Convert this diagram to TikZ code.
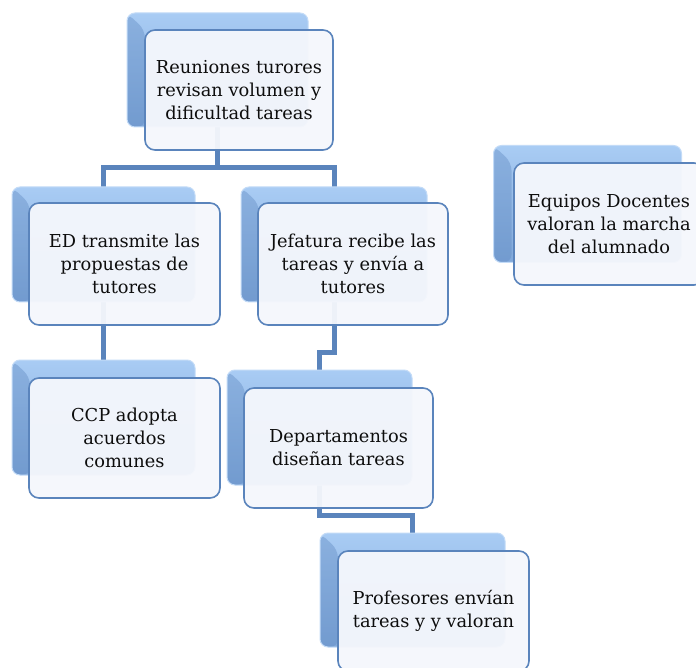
\documentclass[tikz,border=0pt]{standalone}
\usepackage{fontspec}
\setmainfont{DejaVu Serif}
\definecolor{connc}{HTML}{5A84BC}
\definecolor{bgtop}{HTML}{A9CCF4}
\definecolor{bgbot}{HTML}{80A8DA}
\definecolor{bevelc}{HTML}{5E88C0}
\definecolor{frontfill}{HTML}{F5F7FC}
\definecolor{frontline}{HTML}{5A84BC}
\begin{document}
\begin{tikzpicture}[x=1pt,y=-1pt,
  conn/.style={draw=connc,line width=5pt},
  bgbox/.style={rectangle,rounded corners=8pt,top color=bgtop,bottom color=bgbot,
    draw=bgtop!70!white,line width=1pt,inner sep=0pt,
    path picture={\fill[bevelc,opacity=0.4] (path picture bounding box.north west)
      -- ++(18pt,-17pt) -- ([xshift=18pt]path picture bounding box.south west)
      -- (path picture bounding box.south west) -- cycle;}},
  frontbox/.style={rectangle,rounded corners=10pt,fill=frontfill,fill opacity=0.95,
    text opacity=1,draw=frontline,line width=1.6pt,align=center,inner sep=2pt,
    font=\fontsize{17.8pt}{22.8pt}\selectfont,text=black!95}]
\clip (0,0) rectangle (696,668);
\useasboundingbox (0,0) rectangle (696,668);
\fill[white] (0,0) rectangle (696,668);
% background boxes positions (centres)
\coordinate (pA) at (217.5,70);
\coordinate (pB) at (103.5,244.5);
\coordinate (pC) at (334,244.5);
\coordinate (pD) at (103.5,417.5);
\coordinate (pE) at (319.5,427.5);
\coordinate (pF) at (587.5,204);
\coordinate (pG) at (412.5,590);
% connectors (behind)
\coordinate (hA) at ([yshift=-168pt]pA |- 0,0);
\coordinate (hB) at ([yshift=-352pt]pE |- 0,0);
\coordinate (hC) at ([yshift=-515pt]pG |- 0,0);
\draw[conn] (pA) -- (hA);
\draw[conn] (pB) |- (hA) -| (pC);
\draw[conn] (pB) -- (pD);
\draw[conn] (pC) |- (hB) -| (pE);
\draw[conn] (pE) |- (hC) -| (pG);
% background boxes
\node[bgbox,minimum width=181pt,minimum height=114pt] (bgA) at (pA) {};
\node[bgbox,minimum width=183pt,minimum height=115pt] (bgB) at (pB) {};
\node[bgbox,minimum width=186pt,minimum height=115pt] (bgC) at (pC) {};
\node[bgbox,minimum width=183pt,minimum height=115pt] (bgD) at (pD) {};
\node[bgbox,minimum width=185pt,minimum height=115pt] (bgE) at (pE) {};
\node[bgbox,minimum width=188pt,minimum height=117pt] (bgF) at (pF) {};
\node[bgbox,minimum width=185pt,minimum height=114pt] (bgG) at (pG) {};
% front boxes
\node[frontbox,minimum width=188pt,minimum height=120pt] (A) at (239,90)
  {Reuniones turores\\revisan volumen y\\dificultad tareas};
\node[frontbox,minimum width=191pt,minimum height=122pt] (B) at (124.5,264)
  {ED transmite las\\propuestas de\\tutores};
\node[frontbox,minimum width=190pt,minimum height=122pt] (C) at (353,264)
  {Jefatura recibe las\\tareas y envía a\\tutores};
\node[frontbox,minimum width=191pt,minimum height=120pt] (D) at (124.5,438)
  {CCP adopta\\acuerdos\\comunes};
\node[frontbox,minimum width=189pt,minimum height=120pt] (E) at (338.5,448)
  {Departamentos\\diseñan tareas};
\node[frontbox,minimum width=190pt,minimum height=122pt] (F) at (609,224)
  {Equipos Docentes\\valoran la marcha\\del alumnado};
\node[frontbox,minimum width=191pt,minimum height=120pt] (G) at (433.5,611)
  {Profesores envían\\tareas y y valoran};
\end{tikzpicture}
\end{document}
